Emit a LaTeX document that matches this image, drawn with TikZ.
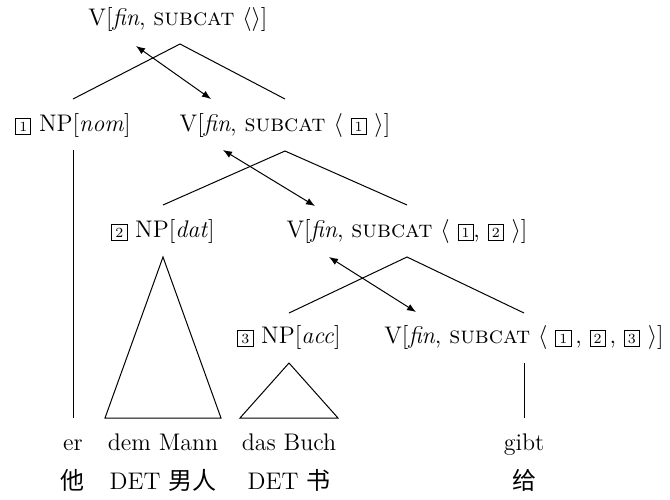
\documentclass[tikz,border=0pt]{standalone}
\usepackage{fontspec}
\newfontfamily\cjk{Noto Sans CJK SC}
\usepackage{amsmath}
\usepackage{tikz}
\usetikzlibrary{
  arrows.meta,
  positioning
}
\newcommand{\boxnum}[1]{{\setlength{\fboxsep}{1.6pt}\setlength{\fboxrule}{0.4pt}\fbox{\scriptsize #1}}}
\newcommand{\catfont}{\fontsize{12}{14}\selectfont}

\begin{document}
\begin{tikzpicture}[
x=0.5pt,
y=-0.5pt,
cat/.style={
inner sep=0pt,
anchor=base,
font=\catfont
},
gloss/.style={
inner sep=0pt,
anchor=base,
font=\catfont
},
branch/.style={line width=0.5pt},
link/.style={{Latex[length=4.5pt,width=3.5pt]}-{Latex[length=4.5pt,width=3.5pt]},line width=0.5pt}
]
\useasboundingbox (0,0) rectangle (670,499);

% categories
\node[cat] (s) at (178,25) {V[\textit{fin}, \textsc{subcat} $\langle\rangle$]};

\node[cat] (nom) at (73,131) {\boxnum{1} NP[\textit{nom}]};
\node[cat] (v1) at (285,131) {V[\textit{fin}, \textsc{subcat} $\langle$ \boxnum{1} $\rangle$]};

\node[cat] (dat) at (163,237) {\boxnum{2} NP[\textit{dat}]};
\node[cat] (v2) at (407,237) {V[\textit{fin}, \textsc{subcat} $\langle$ \boxnum{1}, \boxnum{2} $\rangle$]};

\node[cat] (acc) at (289,343) {\boxnum{3} NP[\textit{acc}]};
\node[cat] (v3) at (524,343) {V[\textit{fin}, \textsc{subcat} $\langle$ \boxnum{1}\,, \boxnum{2}\,, \boxnum{3} $\rangle$]};

% words
\node[gloss] (er) at (73,450) {er};
\node[gloss] (mann) at (163,450) {dem Mann};
\node[gloss] (buch) at (289,450) {das Buch};
\node[gloss] (gibt) at (524,450) {gibt};

\node[gloss] (er-zh) at (73,489) {\cjk 他};
\node[gloss] (mann-zh) at (163,489) {DET {\cjk 男人}};
\node[gloss] (buch-zh) at (289,489) {DET {\cjk 书}};
\node[gloss] (gibt-zh) at (524,489) {\cjk 给};

% branches
\draw[branch] ([yshift=16pt]nom.base) -- ([xshift=1pt,yshift=-9.5pt]s.base) -- ([yshift=16pt]v1.base);
\draw[branch] ([yshift=16pt]dat.base) -- ([yshift=-10pt]v1.base) -- ([yshift=16pt]v2.base);
\draw[branch] ([yshift=15pt]acc.base) -- ([yshift=-10pt]v2.base) -- ([yshift=15pt]v3.base);

\draw[branch] ([yshift=-9.5pt]nom.base) -- ([yshift=16pt]er.base);
\draw[branch] ([yshift=-10pt]dat.base) -- ([xshift=-29pt,yshift=16pt]mann.base) -- ([xshift=29pt,yshift=16pt]mann.base) -- cycle;
\draw[branch] ([yshift=-10pt]acc.base) -- ([xshift=-24.5pt,yshift=16pt]buch.base) -- ([xshift=24.5pt,yshift=16pt]buch.base) -- cycle;
\draw[branch] ([yshift=-10pt]v3.base) -- ([yshift=16pt]gibt.base);

% structure sharing
\draw[link] ([xshift=-21pt,yshift=-10.5pt]s.base) -- ([xshift=-37pt,yshift=16pt]v1.base);
\draw[link] ([xshift=-31pt,yshift=-9.5pt]v1.base) -- ([xshift=-46pt,yshift=15.5pt]v2.base);
\draw[link] ([xshift=-39pt,yshift=-10pt]v2.base) -- ([xshift=-54pt,yshift=15.5pt]v3.base);

\end{tikzpicture}
\end{document}
